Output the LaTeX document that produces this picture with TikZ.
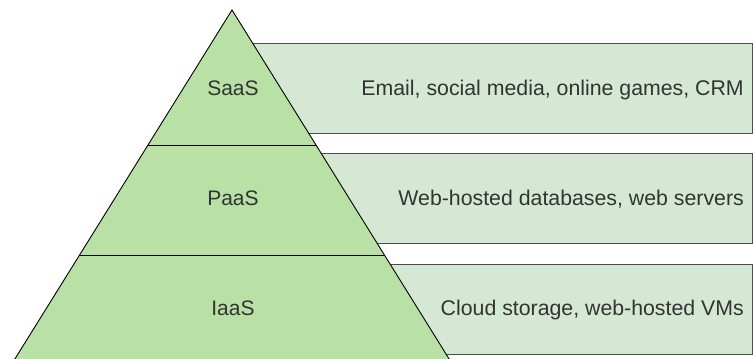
\documentclass[tikz,border=0pt]{standalone}
\usepackage{fontspec}
\setmainfont{Liberation Sans}
\usetikzlibrary{positioning, calc}
\definecolor{pyrfill}{RGB}{185,224,165}
\definecolor{bandfill}{RGB}{213,232,212}
\definecolor{bandrim}{RGB}{77,77,77}
\definecolor{txtdark}{RGB}{51,51,51}
\tikzset{
  band/.style={rectangle, draw=bandrim, fill=bandfill, line width=1.3pt,
    minimum width=499pt, minimum height=90pt, inner sep=0pt, anchor=north west},
  tier/.style={font=\fontsize{21}{25}\selectfont, text=txtdark, inner sep=0pt, anchor=base},
  usecase/.style={font=\fontsize{21.3}{25}\selectfont, text=txtdark, inner sep=0pt, anchor=base east},
  edge/.style={draw=black, line width=0.9pt}
}
\begin{document}
\begin{tikzpicture}[x=1pt, y=-1pt]
  \useasboundingbox (0,0) rectangle (753,359);

  % Bands behind the pyramid
  \node[band] (bandS) at (253,43) {};
  \node[band] (bandP) at (253,153) {};
  \node[band] (bandI) at (253,264) {};

  % Pyramid
  \coordinate (apex) at (232,10);
  \coordinate (bl) at (13,362);
  \coordinate (br) at (451,362);
  \fill[pyrfill] (apex) -- (bl) -- (br) -- cycle;
  \draw[edge] (bl) -- (apex) -- (br);
  \draw[edge] ($(apex)!0.3835!(bl)$) -- ($(apex)!0.3835!(br)$);
  \draw[edge] ($(apex)!0.696!(bl)$) -- ($(apex)!0.696!(br)$);

  % Tier labels
  \node[tier] (saas) at (233,95.5) {SaaS};
  \node[tier] (paas) at (233,205) {PaaS};
  \node[tier] (iaas) at (233,315) {IaaS};

  % Examples
  \node[usecase] (ex1) at (744,95.5) {Email, social media, online games, CRM};
  \node[usecase] (ex2) at (744,205) {Web-hosted databases, web servers};
  \node[usecase] (ex3) at (744,315) {Cloud storage, web-hosted VMs};
\end{tikzpicture}
\end{document}
